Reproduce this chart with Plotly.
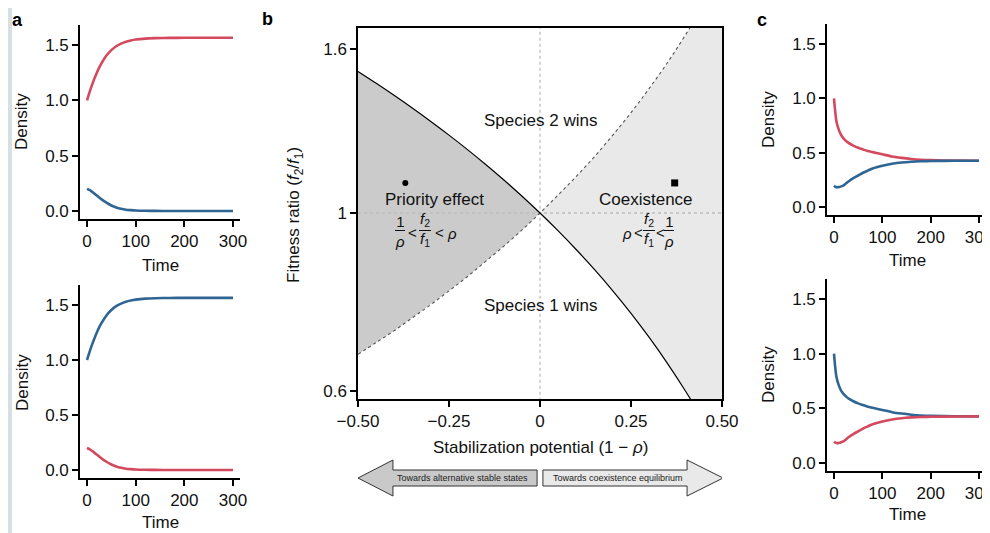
import math
import plotly.graph_objects as go

# The page body has an 8px default margin, so the figure is drawn 8px in from the window edges.
WIN_W, WIN_H = 990, 533
OFF = 8
W, H = WIN_W - OFF, WIN_H - OFF
RED = "#d4495e"
BLUE = "#2f6593"
FONT = "Liberation Sans, Arial, Helvetica, sans-serif"

# ---------------- data ----------------
# panels a: competitive exclusion time series
time_a = [0, 5, 10, 15, 20, 25, 30, 40, 50, 60, 70, 80, 90, 100, 120, 140, 170, 200, 250, 300]
winner_a = [1.0, 1.07, 1.135, 1.194, 1.248, 1.296, 1.337, 1.405, 1.454, 1.489, 1.513, 1.53,
            1.541, 1.549, 1.558, 1.562, 1.564, 1.565, 1.565, 1.565]
loser_a = [0.20, 0.19, 0.175, 0.158, 0.14, 0.122, 0.105, 0.075, 0.05, 0.032, 0.02, 0.012,
           0.008, 0.005, 0.002, 0.001, 0.0, 0.0, 0.0, 0.0]

# panels c: coexistence time series
time_c = [0, 2, 5, 10, 15, 20, 30, 40, 50, 60, 70, 80, 100, 120, 140, 160, 180, 200, 250, 300]
high_start_c = [1.0, 0.90, 0.79, 0.71, 0.66, 0.63, 0.59, 0.565, 0.545, 0.53, 0.515, 0.505,
                0.485, 0.465, 0.452, 0.442, 0.435, 0.431, 0.427, 0.426]
low_start_c = [0.195, 0.188, 0.183, 0.183, 0.19, 0.2, 0.235, 0.265, 0.29, 0.315, 0.335, 0.355,
               0.38, 0.398, 0.41, 0.417, 0.421, 0.423, 0.425, 0.426]

# panel b: boundaries rho and 1/rho versus stabilization potential (1 - rho)
stabilization = [-0.5, -0.45, -0.4, -0.35, -0.3, -0.25, -0.2, -0.15, -0.1, -0.05, 0.0,
                 0.05, 0.1, 0.15, 0.2, 0.25, 0.3, 0.35, 0.4, 0.45, 0.5]
rho_boundary = [1.5, 1.45, 1.4, 1.35, 1.3, 1.25, 1.2, 1.15, 1.1, 1.05, 1.0,
                0.95, 0.9, 0.85, 0.8, 0.75, 0.7, 0.65, 0.6, 0.55, 0.5]
inv_rho_boundary = [0.667, 0.690, 0.714, 0.741, 0.769, 0.8, 0.833, 0.870, 0.909, 0.952, 1.0,
                    1.053, 1.111, 1.176, 1.25, 1.333, 1.429, 1.538, 1.667, 1.818, 2.0]
priority_point = (-0.37, 1.09)
coexist_point = (0.37, 1.09)

ts_xticks = [0, 100, 200, 300]
ts_yticks = [0, 0.5, 1.0, 1.5]
ts_yticklabels = ["0.0", "0.5", "1.0", "1.5"]
b_xticks = [-0.5, -0.25, 0, 0.25, 0.5]
b_xticklabels = ["\u22120.50", "\u22120.25", "0", "0.25", "0.50"]
b_yticks = [0.6, 1, 1.6]
b_yticklabels = ["0.6", "1", "1.6"]


# ---------------- layout helpers (window pixel -> paper) ----------------
def PX(x):
    return (x - OFF) / W


def PY(y):
    return 1 - (y - OFF) / H


def span(pa, va, pb, vb, r0, r1):
    k = (pb - pa) / (vb - va)
    return pa + (r0 - va) * k, pa + (r1 - va) * k


def xdom(pa, va, pb, vb, r0, r1):
    p0, p1 = span(pa, va, pb, vb, r0, r1)
    return [PX(p0), min(1.0, PX(p1))]


def ydom(pa, va, pb, vb, r0, r1):
    p0, p1 = span(pa, va, pb, vb, r0, r1)
    return [PY(p0), PY(p1)]


TS_XR = [-14, 314]
TS_YR = [-0.07, 1.68]
B_YR = [-0.2316, 0.2303]

fig = go.Figure()


def ts_axis_x(dom, anchor):
    return dict(domain=dom, range=TS_XR, anchor=anchor, tickvals=ts_xticks, automargin=False,
                showline=True, linewidth=2, linecolor="black", ticks="outside",
                ticklen=6, tickwidth=2, tickcolor="black", showgrid=False,
                ticklabeloverflow="allow",
                zeroline=False, tickfont=dict(size=17, color="#111"))


def ts_axis_y(dom, anchor):
    return dict(domain=dom, range=TS_YR, anchor=anchor, tickvals=ts_yticks, automargin=False,
                ticktext=ts_yticklabels,
                showline=True, linewidth=2, linecolor="black", ticks="outside",
                ticklen=6, tickwidth=2, tickcolor="black", showgrid=False,
                zeroline=False, tickfont=dict(size=17, color="#111"))


def add_ts(xa, ya, t, y, color):
    fig.add_trace(go.Scatter(x=t, y=y, mode="lines", xaxis=xa, yaxis=ya,
                             line=dict(color=color, width=2.6, shape="spline", smoothing=0.7),
                             showlegend=False, hoverinfo="skip"))


# panel a (top: species 1 wins, bottom: species 2 wins)
add_ts("x", "y", time_a, winner_a, RED)
add_ts("x", "y", time_a, loser_a, BLUE)
add_ts("x2", "y2", time_a, winner_a, BLUE)
add_ts("x2", "y2", time_a, loser_a, RED)
# panel c (coexistence)
add_ts("x4", "y4", time_c, high_start_c, RED)
add_ts("x4", "y4", time_c, low_start_c, BLUE)
add_ts("x5", "y5", time_c, high_start_c, BLUE)
add_ts("x5", "y5", time_c, low_start_c, RED)

# panel b fills
neg = slice(0, 11)
pos = slice(10, 21)
fig.add_trace(go.Scatter(x=stabilization[neg], y=inv_rho_boundary[neg], mode="lines",
                         line=dict(width=0, color="rgba(0,0,0,0)"), xaxis="x3", yaxis="y3",
                         showlegend=False, hoverinfo="skip"))
fig.add_trace(go.Scatter(x=stabilization[neg], y=rho_boundary[neg], mode="lines", fill="tonexty",
                         fillcolor="#cbcbcb", line=dict(width=0, color="rgba(0,0,0,0)"),
                         xaxis="x3", yaxis="y3", showlegend=False, hoverinfo="skip"))
fig.add_trace(go.Scatter(x=stabilization[pos], y=rho_boundary[pos], mode="lines",
                         line=dict(width=0, color="rgba(0,0,0,0)"), xaxis="x3", yaxis="y3",
                         showlegend=False, hoverinfo="skip"))
fig.add_trace(go.Scatter(x=stabilization[pos], y=inv_rho_boundary[pos], mode="lines", fill="tonexty",
                         fillcolor="#e9e9e9", line=dict(width=0, color="rgba(0,0,0,0)"),
                         xaxis="x3", yaxis="y3", showlegend=False, hoverinfo="skip"))
# reference dashed lines
fig.add_trace(go.Scatter(x=[0, 0], y=[0.5, 2.0], mode="lines", xaxis="x3", yaxis="y3",
                         line=dict(color="#bdbdbd", width=1.3, dash="3px,3px"),
                         showlegend=False, hoverinfo="skip"))
fig.add_trace(go.Scatter(x=[-0.5, 0.5], y=[1, 1], mode="lines", xaxis="x3", yaxis="y3",
                         line=dict(color="#bdbdbd", width=1.3, dash="3px,3px"),
                         showlegend=False, hoverinfo="skip"))
# boundaries
fig.add_trace(go.Scatter(x=stabilization, y=inv_rho_boundary, mode="lines", xaxis="x3", yaxis="y3",
                         line=dict(color="#555555", width=1.1, dash="dot", shape="spline"),
                         showlegend=False, hoverinfo="skip"))
fig.add_trace(go.Scatter(x=stabilization, y=rho_boundary, mode="lines", xaxis="x3", yaxis="y3",
                         line=dict(color="black", width=1.2, shape="spline"),
                         showlegend=False, hoverinfo="skip"))
# markers
fig.add_trace(go.Scatter(x=[priority_point[0]], y=[priority_point[1]], mode="markers",
                         xaxis="x3", yaxis="y3", marker=dict(symbol="circle", size=6, color="black"),
                         showlegend=False, hoverinfo="skip"))
fig.add_trace(go.Scatter(x=[coexist_point[0]], y=[coexist_point[1]], mode="markers",
                         xaxis="x3", yaxis="y3", marker=dict(symbol="square", size=7, color="black"),
                         showlegend=False, hoverinfo="skip"))

layout = dict(
    template="none",
    width=W, height=H, margin=dict(l=0, r=0, t=0, b=0, pad=0, autoexpand=False),
    paper_bgcolor="white", plot_bgcolor="white",
    font=dict(family=FONT, size=17, color="#111"),
    showlegend=False,
    xaxis=ts_axis_x(xdom(87, 0, 233, 300, *TS_XR), "y"),
    yaxis=ts_axis_y(ydom(211, 0, 45, 1.5, *TS_YR), "x"),
    xaxis2=ts_axis_x(xdom(87, 0, 233, 300, *TS_XR), "y2"),
    yaxis2=ts_axis_y(ydom(470, 0, 305, 1.5, *TS_YR), "x2"),
    xaxis4=ts_axis_x(xdom(834, 0, 979, 300, *TS_XR), "y4"),
    yaxis4=ts_axis_y(ydom(207, 0, 44, 1.5, *TS_YR), "x4"),
    xaxis5=ts_axis_x(xdom(834, 0, 979, 300, *TS_XR), "y5"),
    yaxis5=ts_axis_y(ydom(463, 0, 299, 1.5, *TS_YR), "x5"),
    xaxis3=dict(domain=xdom(358, -0.5, 722, 0.5, -0.5, 0.5), range=[-0.5, 0.5], anchor="y3",
                tickvals=b_xticks, ticktext=b_xticklabels, showline=True, mirror=True,
                automargin=False,
                linewidth=1.5, linecolor="black", ticks="outside", ticklen=6, tickwidth=1.5,
                tickcolor="black", showgrid=False, zeroline=False,
                tickfont=dict(size=17, color="#111")),
    yaxis3=dict(domain=ydom(213, 0, 49, math.log10(1.6), *B_YR), type="log", range=B_YR,
                anchor="x3", tickvals=b_yticks, ticktext=b_yticklabels, showline=True,
                automargin=False,
                mirror=True, linewidth=1.5, linecolor="black", ticks="outside", ticklen=6,
                tickwidth=1.5, tickcolor="black", showgrid=False, zeroline=False,
                tickfont=dict(size=17, color="#111")),
)

anns = []


def ann(text, x, y, size=17, angle=0, bold=False, color="#111", xanchor="center", pad=1):
    anns.append(dict(text=("<b>%s</b>" % text) if bold else text, x=PX(x), y=PY(y),
                     xref="paper", yref="paper", showarrow=False, textangle=angle,
                     xanchor=xanchor, yanchor="middle", borderpad=pad,
                     font=dict(size=size, color=color, family=FONT)))


def dann(text, x, y, size=17):
    anns.append(dict(text=text, x=x, y=math.log10(y), xref="x3", yref="y3", showarrow=False,
                     xanchor="center", yanchor="middle", borderpad=0,
                     font=dict(size=size, color="#111", family=FONT)))


# panel labels
ann("a", 17, 20, size=18, bold=True, color="black", pad=0)
ann("b", 267, 19, size=18, bold=True, color="black", pad=0)
ann("c", 762, 20, size=18, bold=True, color="black", pad=0)
# axis titles
ann("Density", 22, 122, angle=-90)
ann("Time", 160, 265)
ann("Density", 22, 383, angle=-90)
ann("Time", 160, 522)
ann("Density", 768, 120, angle=-90)
ann("Time", 907, 261)
ann("Density", 768, 375, angle=-90)
ann("Time", 907, 514)
ann("Fitness ratio (<i>f</i><sub>2</sub>/<i>f</i><sub>1</sub>)", 295, 215, angle=-90)
ann("Stabilization potential (1 \u2212 <i>\u03c1</i>)", 540, 447)

# region labels
dann("Species 2 wins", 0, 1.305)
dann("Species 1 wins", 0, 0.768)
dann("Priority effect", -0.29, 1.038)
dann("Coexistence", 0.29, 1.038)

# inequality formulas (stacked fractions)
FS = 15
ann("1<br><i>\u03c1</i>", 400, 231, size=FS, pad=0)
ann("<", 412, 232, size=FS, pad=0)
ann("<i>f</i><sub>2</sub><br><i>f</i><sub>1</sub>", 425, 230, size=FS, pad=0)
ann("<", 439, 232, size=FS, pad=0)
ann("<i>\u03c1</i>", 452, 233, size=FS, pad=0)

ann("<i>\u03c1</i>", 627, 233, size=FS, pad=0)
ann("<", 638, 232, size=FS, pad=0)
ann("<i>f</i><sub>2</sub><br><i>f</i><sub>1</sub>", 649, 230, size=FS, pad=0)
ann("<", 660, 232, size=FS, pad=0)
ann("1<br><i>\u03c1</i>", 669, 231, size=FS, pad=0)

# arrow captions
ann("Towards alternative stable states", 462, 478, size=9, color="#222")
ann("Towards coexistence equilibrium", 618, 478, size=9, color="#222")

layout["annotations"] = anns

shapes = []
BAND = "#d7dfe3"
shapes.append(dict(type="rect", xref="paper", yref="paper", x0=0, x1=PX(12), y0=0, y1=1,
                   fillcolor=BAND, line=dict(width=0), layer="below"))
# fraction bars
for x0, x1 in [(395, 405), (419, 431), (643, 655), (664, 674)]:
    shapes.append(dict(type="line", xref="paper", yref="paper", x0=PX(x0), x1=PX(x1),
                       y0=PY(230.5), y1=PY(230.5), line=dict(color="#111", width=1)))

# big direction arrows (x in stabilization units, y in paper)
yc, bh, hh = PY(478), 8 / H, 18 / H


def arrow_path(tip, base, end):
    return ("M {t},{yc} L {b},{a1} L {b},{a2} L {e},{a2} L {e},{a3} L {b},{a3} L {b},{a4} Z"
            .format(t=tip, b=base, e=end, yc=yc, a1=yc + hh, a2=yc + bh, a3=yc - bh, a4=yc - hh))


shapes.append(dict(type="path", xref="x3", yref="paper", path=arrow_path(-0.5, -0.404, -0.008),
                   fillcolor="#c9c9c9", line=dict(color="#333", width=1)))
shapes.append(dict(type="path", xref="x3", yref="paper", path=arrow_path(0.503, 0.404, 0.008),
                   fillcolor="#e9e9e9", line=dict(color="#333", width=1)))
layout["shapes"] = shapes

fig.update_layout(**layout)
fig.write_html("out.html")
